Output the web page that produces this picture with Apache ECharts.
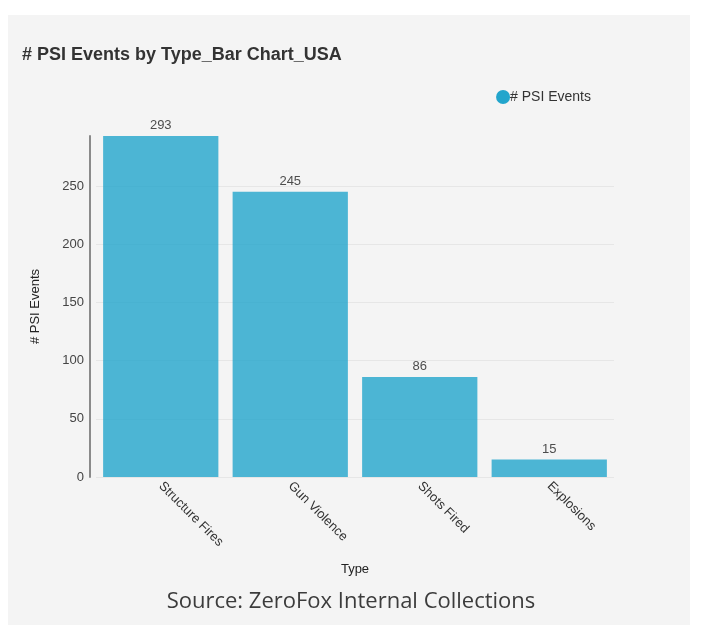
<!DOCTYPE html>
<html>
<head>
<meta charset="utf-8">
<script src="https://cdn.jsdelivr.net/npm/echarts@6/dist/echarts.min.js"></script>
<style>
html,body{margin:0;padding:0;background:#ffffff;}
#chart{width:702px;height:635px;}
</style>
</head>
<body>
<div id="chart"></div>
<script>
const categories = ['Structure Fires', 'Gun Violence', 'Shots Fired', 'Explosions'];
const psiEvents = [293, 245, 86, 15];
const yTicks = [0, 50, 100, 150, 200, 250];

const chart = echarts.init(document.getElementById('chart'));
const fontFam = '"Liberation Sans", Arial, sans-serif';
const gridColors = yTicks.map(() => '#e6e6e6').concat(['rgba(0,0,0,0)']);

chart.setOption({
  backgroundColor: '#ffffff',
  animation: false,
  graphic: [
    { type: 'rect', z: -10, silent: true, shape: { x: 8, y: 15, width: 682, height: 610 }, style: { fill: '#f4f4f4' } },
    { type: 'text', left: 'center', top: 591, style: { text: 'Source: ZeroFox Internal Collections', font: '22px "Open Sans", sans-serif', fill: '#3c3c3c' } }
  ],
  title: {
    text: '# PSI Events by Type_Bar Chart_USA',
    left: 17, top: 41,
    textStyle: { fontFamily: fontFam, fontSize: 18, fontWeight: 'bold', color: '#333333' }
  },
  legend: {
    right: 106, top: 85,
    icon: 'circle', itemWidth: 14, itemHeight: 14,
    textStyle: { fontFamily: fontFam, fontSize: 14, color: '#333333', padding: [0, 0, 0, -5] },
    data: [{ name: '# PSI Events', itemStyle: { color: '#22a5cc', opacity: 1 } }]
  },
  grid: { left: 96, right: 88, top: 136, bottom: 158 },
  xAxis: {
    type: 'category',
    data: categories,
    name: 'Type', nameLocation: 'middle', nameGap: 86,
    nameTextStyle: { fontFamily: fontFam, fontSize: 13, color: '#222222' },
    axisLine: { show: false }, axisTick: { show: false },
    axisLabel: { rotate: -45, margin: 7, fontFamily: fontFam, fontSize: 13, color: '#333333' }
  },
  yAxis: {
    type: 'value', min: 0, max: 293, interval: 50, offset: 6,
    name: '# PSI Events', nameLocation: 'middle', nameGap: 48,
    nameTextStyle: { fontFamily: fontFam, fontSize: 13, color: '#222222' },
    axisLine: { show: true, lineStyle: { color: '#8a8a8a', width: 2 } },
    axisTick: { show: false },
    axisLabel: {
      margin: 6, fontFamily: fontFam, fontSize: 13, color: '#444444',
      formatter: v => (yTicks.indexOf(v) >= 0 ? String(v) : '')
    },
    splitLine: { show: true, lineStyle: { color: gridColors, width: 1 } }
  },
  series: [{
    name: '# PSI Events',
    type: 'bar',
    data: psiEvents,
    barCategoryGap: '11%',
    itemStyle: { color: '#22a5cc', opacity: 0.8 },
    label: { show: true, position: 'top', distance: 4, fontFamily: fontFam, fontSize: 13, color: '#222222' }
  }]
});
</script>
</body>
</html>
